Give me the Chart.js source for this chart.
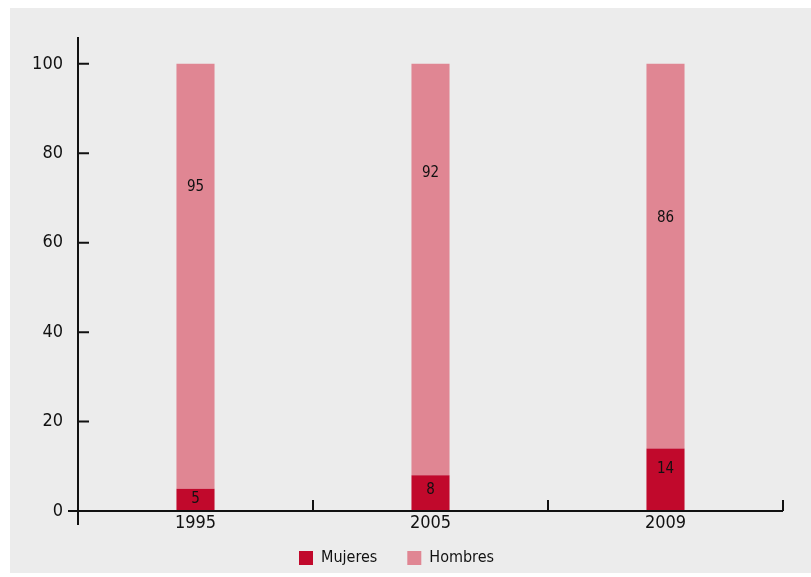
<!DOCTYPE html>
<html lang="es">
<head>
    <meta charset="UTF-8">
    <title>Mujeres y hombres</title>
    <script src="https://cdn.jsdelivr.net/npm/chart.js"></script>
    <style>
        body { margin: 0; background: #fff; overflow: hidden; }
        #panel { position: absolute; left: 10px; top: 8px; width: 801px; height: 565px; background: #ececec; }
        #panel canvas { display: block; }
    </style>
</head>
<body>
    <div id="panel">
        <canvas id="chart" width="801" height="592"></canvas>
    </div>

    <script>
    const years = ['1995', '2005', '2009'];
    const mujeres = [5, 8, 14];
    const hombres = [95, 92, 86];
    // where the value labels sit (in axis units)
    const mujeresLabelAt = [2.7, 4.7, 9.4];
    const hombresLabelAt = [72.5, 75.6, 65.5];

    const FONT = '"DejaVu Sans Condensed", "Liberation Sans", Arial, sans-serif';
    Chart.defaults.font.family = FONT;
    Chart.defaults.color = '#111';

    // axis lines and ticks drawn the way the original has them
    const axesPlugin = {
        id: 'axes',
        afterLayout(chart) {
            // pull the legend a bit closer to the axis labels
            chart.legend.top -= 17;
            chart.legend.bottom -= 17;
        },
        afterDatasetsDraw(chart) {
            const { ctx, chartArea: a, scales: { x, y } } = chart;
            ctx.save();
            ctx.strokeStyle = '#111';
            ctx.lineWidth = 2;
            ctx.beginPath();
            ctx.moveTo(a.left, a.top);
            ctx.lineTo(a.left, a.bottom + 14);
            ctx.moveTo(a.left - 10, a.bottom);
            ctx.lineTo(a.right, a.bottom);
            y.ticks.forEach(t => {
                const py = y.getPixelForValue(t.value);
                ctx.moveTo(a.left, py);
                ctx.lineTo(a.left + 11, py);
            });
            const step = (a.right - a.left) / years.length;
            for (let i = 1; i <= years.length; i++) {
                const px = a.left + step * i;
                ctx.moveTo(px, a.bottom);
                ctx.lineTo(px, a.bottom - 11);
            }
            ctx.stroke();

            ctx.fillStyle = '#111';
            ctx.font = '15px ' + FONT;
            ctx.textAlign = 'center';
            ctx.textBaseline = 'middle';
            const draw = (dsIndex, values, at) => {
                chart.getDatasetMeta(dsIndex).data.forEach((bar, i) => {
                    ctx.fillText(values[i], bar.x, y.getPixelForValue(at[i]));
                });
            };
            draw(0, mujeres, mujeresLabelAt);
            draw(1, hombres, hombresLabelAt);
            ctx.restore();
        }
    };

    new Chart(document.getElementById('chart'), {
        type: 'bar',
        data: {
            labels: years,
            datasets: [
                { label: 'Mujeres', data: mujeres, backgroundColor: '#c1092c' },
                { label: 'Hombres', data: hombres, backgroundColor: '#e08693' }
            ]
        },
        options: {
            responsive: false,
            animation: false,
            layout: { padding: { left: 0, right: 28, top: 29, bottom: 7 } },
            datasets: { bar: { categoryPercentage: 1, barPercentage: 0.162 } },
            scales: {
                x: {
                    stacked: true,
                    grid: { display: false, drawTicks: false },
                    border: { display: false },
                    ticks: { padding: 2, font: { size: 18 } },
                    afterFit(s) { s.height = 26; }
                },
                y: {
                    stacked: true,
                    min: 0,
                    max: 106,
                    grid: { display: false, drawTicks: false },
                    border: { display: false },
                    ticks: { stepSize: 20, padding: 15, font: { size: 18 } },
                    afterBuildTicks(s) { s.ticks = s.ticks.filter(t => t.value <= 100); },
                    afterFit(s) { s.width = 68; }
                }
            },
            plugins: {
                legend: {
                    position: 'bottom',
                    labels: { boxWidth: 14, boxHeight: 14, padding: 30, font: { size: 16 } }
                },
                tooltip: { enabled: false }
            }
        },
        plugins: [axesPlugin]
    });
    </script>
</body>
</html>
